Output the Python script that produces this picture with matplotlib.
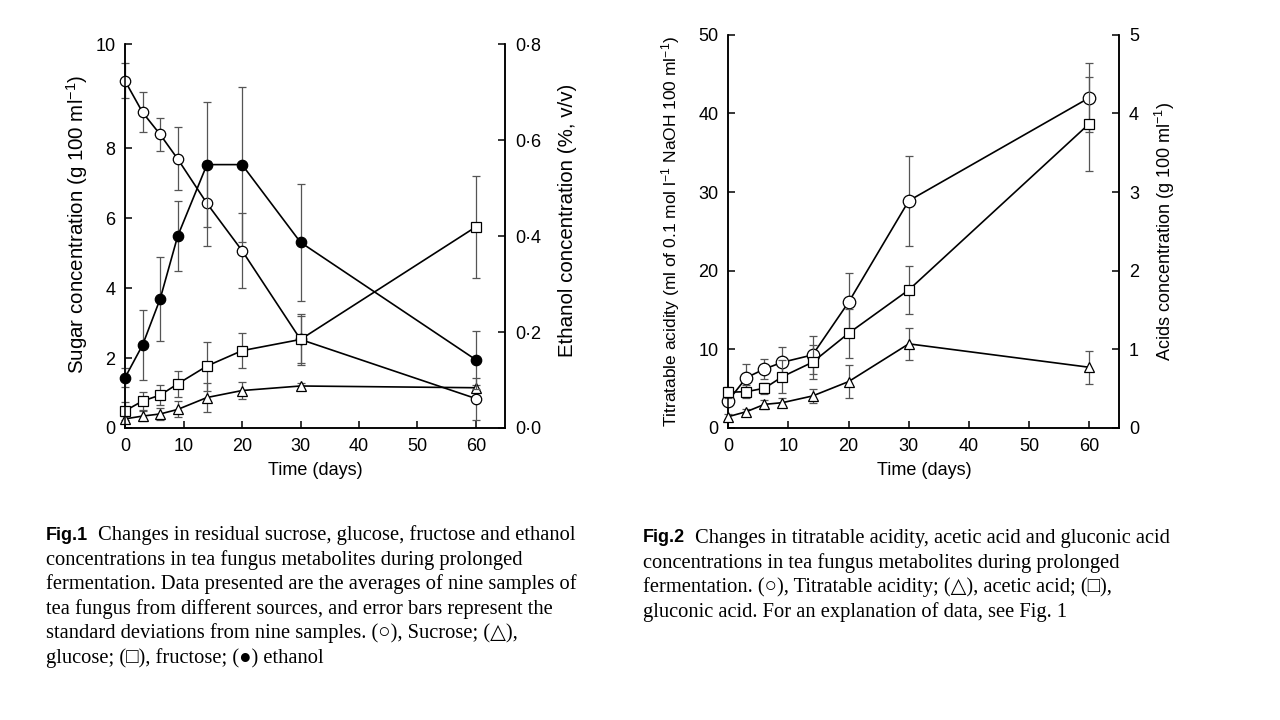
import matplotlib
matplotlib.use("Agg")
import matplotlib.pyplot as plt
from matplotlib.ticker import FuncFormatter

# ---- data ----
days = [0, 3, 6, 9, 14, 20, 30, 60]

# Fig. 1 (sugars in g/100 ml, ethanol in %, v/v)
sucrose = [9.92, 9.02, 8.39, 7.69, 6.42, 5.07, 2.53, 0.84]
sucrose_sd = [0.50, 0.57, 0.46, 0.90, 1.21, 1.08, 0.72, 0.60]
glucose = [0.26, 0.34, 0.40, 0.53, 0.87, 1.07, 1.20, 1.15]
glucose_sd = [0.08, 0.15, 0.16, 0.23, 0.42, 0.24, 0.08, 0.08]
fructose = [0.49, 0.77, 0.94, 1.26, 1.77, 2.21, 2.53, 5.75]
fructose_sd = [0.26, 0.27, 0.28, 0.38, 0.70, 0.50, 0.68, 1.46]
ethanol = [0.105, 0.173, 0.269, 0.400, 0.549, 0.549, 0.387, 0.142]
ethanol_sd = [0.02, 0.072, 0.088, 0.073, 0.131, 0.162, 0.122, 0.060]

# Fig. 2 (titratable acidity in ml 0.1 M NaOH/100 ml, acids in g/100 ml)
titratable = [3.48, 6.4, 7.5, 8.36, 9.29, 16.0, 28.9, 42.0]
titratable_sd = [0.5, 1.75, 1.3, 2.0, 2.4, 3.7, 5.7, 4.4]
acetic = [0.144, 0.207, 0.300, 0.322, 0.407, 0.590, 1.070, 0.772]
acetic_sd = [0.03, 0.03, 0.06, 0.06, 0.09, 0.205, 0.20, 0.21]
gluconic = [0.454, 0.462, 0.505, 0.653, 0.836, 1.205, 1.756, 3.87]
gluconic_sd = [0.07, 0.08, 0.07, 0.21, 0.216, 0.31, 0.31, 0.60]

fig1_yticks = [0, 2, 4, 6, 8, 10.97]
fig1_yticklabels = ["0", "2", "4", "6", "8", "10"]

caption1 = [
    "Changes in residual sucrose, glucose, fructose and ethanol",
    "concentrations in tea fungus metabolites during prolonged",
    "fermentation. Data presented are the averages of nine samples of",
    "tea fungus from different sources, and error bars represent the",
    "standard deviations from nine samples. (\u25cb), Sucrose; (\u25b3),",
    "glucose; (\u25a1), fructose; (\u25cf) ethanol",
]
caption2 = [
    "Changes in titratable acidity, acetic acid and gluconic acid",
    "concentrations in tea fungus metabolites during prolonged",
    "fermentation. (\u25cb), Titratable acidity; (\u25b3), acetic acid; (\u25a1),",
    "gluconic acid. For an explanation of data, see Fig. 1",
]

plt.rcParams["font.family"] = ["Liberation Sans", "DejaVu Sans"]
plt.rcParams["mathtext.default"] = "regular"

SANS = ["Liberation Sans", "DejaVu Sans"]
SERIF = ["Liberation Serif", "DejaVu Serif"]


def series(ax, y, err, marker, fill, size):
    ax.errorbar(days, y, yerr=err, fmt="none", ecolor="#555555", elinewidth=0.9,
                capsize=2.6, capthick=0.9, zorder=2, clip_on=False)
    ax.plot(days, y, color="black", lw=1.2, marker=marker, markersize=size,
            markerfacecolor=fill, markeredgecolor="black", markeredgewidth=0.9,
            zorder=3, clip_on=False)


def style(ax):
    ax.spines["top"].set_visible(False)
    for s in ax.spines.values():
        s.set_linewidth(1.1)
    ax.tick_params(direction="in", length=5, width=1.1, labelsize=13, pad=7)


fig = plt.figure(figsize=(12.8, 7.2), dpi=100)

# ---------------- Fig. 1 ----------------
ax1 = fig.add_axes([0.0977, 0.4056, 0.297, 0.533])
ax1r = ax1.twinx()
series(ax1, sucrose, sucrose_sd, "o", "white", 7.5)
series(ax1, glucose, glucose_sd, "^", "white", 7)
series(ax1, fructose, fructose_sd, "s", "white", 6.5)
series(ax1r, ethanol, ethanol_sd, "o", "black", 7.5)
ax1.set_xlim(0, 65)
ax1.set_ylim(0, 10.97)
ax1r.set_ylim(0, 0.8)
ax1.set_xticks([0, 10, 20, 30, 40, 50, 60])
ax1.set_yticks(fig1_yticks)
ax1.set_yticklabels(fig1_yticklabels)
ax1r.set_yticks([0, 0.2, 0.4, 0.6, 0.8])
ax1r.yaxis.set_major_formatter(FuncFormatter(lambda v, p: f"{v:.1f}".replace(".", "\u00b7")))
style(ax1)
style(ax1r)
ax1.set_xlabel("Time (days)", fontsize=13, labelpad=5)
ax1.set_ylabel("Sugar concentration (g 100 ml$^{-1}$)", fontsize=14.8, labelpad=4)
ax1r.set_ylabel("Ethanol concentration (%, v/v)", fontsize=14.8, labelpad=12)
ax1.yaxis.label.set_y(0.53)
ax1r.yaxis.label.set_y(0.54)

# ---------------- Fig. 2 ----------------
ax2 = fig.add_axes([0.569, 0.4056, 0.3055, 0.546])
ax2r = ax2.twinx()
series(ax2, titratable, titratable_sd, "o", "white", 9)
series(ax2r, acetic, acetic_sd, "^", "white", 7.5)
series(ax2r, gluconic, gluconic_sd, "s", "white", 7)
ax2.set_xlim(0, 65)
ax2.set_ylim(0, 50)
ax2r.set_ylim(0, 5)
ax2.set_xticks([0, 10, 20, 30, 40, 50, 60])
ax2.set_yticks([0, 10, 20, 30, 40, 50])
ax2r.set_yticks([0, 1, 2, 3, 4, 5])
style(ax2)
style(ax2r)
ax2.set_xlabel("Time (days)", fontsize=13, labelpad=5)
ax2.set_ylabel("Titratable acidity (ml of 0.1 mol l$^{-1}$ NaOH 100 ml$^{-1}$)",
               fontsize=12.5, labelpad=12)
ax2r.set_ylabel("Acids concentration (g 100 ml$^{-1}$)", fontsize=13, labelpad=10)

# ---------------- captions ----------------
def caption(x0, x1, y0, tag, lines):
    fig.text(x0 / 1280, 1 - y0 / 720, tag, family=SANS, weight="bold",
             fontsize=13, va="center")
    for i, line in enumerate(lines):
        x = x1 if i == 0 else x0
        fig.text(x / 1280, 1 - (y0 + i * 24.6) / 720, line, family=SERIF,
                 fontsize=14.8, va="center")


caption(46, 98, 535, "Fig.1", caption1)
caption(643, 695, 538, "Fig.2", caption2)

fig.savefig("out.png", dpi=100)
